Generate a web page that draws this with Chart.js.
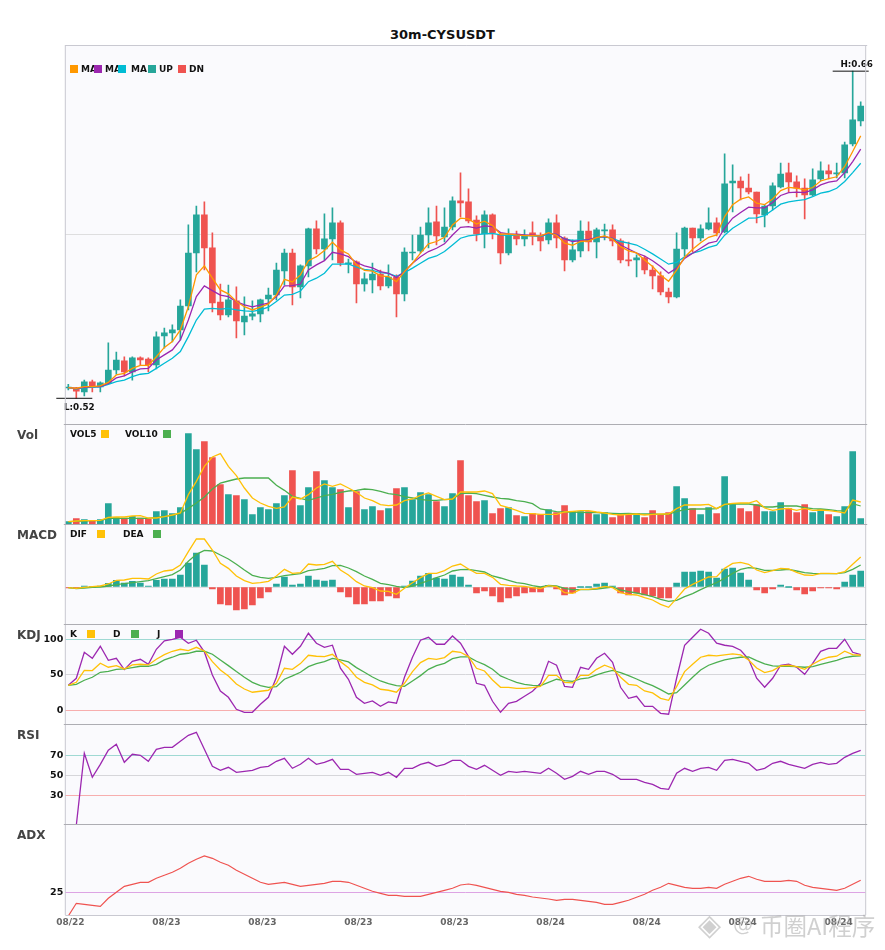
<!DOCTYPE html>
<html>
<head>
<meta charset="utf-8">
<title>30m-CYSUSDT</title>
<script src="https://cdn.jsdelivr.net/npm/chart.js@4"></script>
<style>
  html, body { margin: 0; padding: 0; background: #fff; overflow: hidden; }
  #page { position: relative; width: 885px; height: 950px; font-family: "DejaVu Sans", sans-serif; }
  #page canvas { position: absolute; left: 0; }
  .txt { position: absolute; white-space: nowrap; font-weight: bold; line-height: 1; transform: translateY(-50%); }
  .legend { font-size: 9px; color: #111; }
  .panel-name { font-size: 12px; color: #444; }
  .swatch { position: absolute; width: 8px; height: 8px; }
  #title { position: absolute; left: 0; width: 885px; top: 27px; text-align: center; font-size: 13px; font-weight: bold; color: #111; }
  .mark { position: absolute; color: rgba(170,170,170,.55); white-space: nowrap; line-height: 1; }
</style>
</head>
<body>
<div id="page">
  <div id="title">30m-CYSUSDT</div>
  <canvas id="main" width="885" height="379" style="top:45px"></canvas>
  <canvas id="vol" width="885" height="100" style="top:424px"></canvas>
  <canvas id="macd" width="885" height="100" style="top:524px"></canvas>
  <canvas id="kdj" width="885" height="100" style="top:624px"></canvas>
  <canvas id="rsi" width="885" height="100" style="top:724px"></canvas>
  <canvas id="adx" width="885" height="111" style="top:824px"></canvas>
  <div id="labels"></div>
  <div class="mark" style="left:698px;top:907px;font:30px 'DejaVu Sans'">◈</div>
  <div class="mark" style="left:733px;top:912px;font:20px 'DejaVu Sans'">@</div>
  <div class="mark" style="left:760px;top:908px;font:23.5px 'Noto Sans CJK SC'">币圈AI程序</div>
</div>
<script>
const opens = [
  0.5244,0.5241,0.5227,0.5270,0.5249,0.5264,0.5321,0.5360,0.5313,0.5373,
  0.5368,0.5343,0.5467,0.5480,0.5493,0.5595,0.5822,0.5985,0.5844,0.5612,
  0.5557,0.5617,0.5527,0.5552,0.5561,0.5625,0.5642,0.5745,0.5822,0.5677,
  0.5767,0.5925,0.5839,0.5882,0.5951,0.5775,0.5784,0.5689,0.5707,0.5732,
  0.5681,0.5719,0.5647,0.5822,0.5831,0.5899,0.5955,0.5891,0.5933,0.6045,
  0.6041,0.5963,0.5904,0.5985,0.5899,0.5822,0.5899,0.5882,0.5908,0.5895,
  0.5878,0.5951,0.5886,0.5792,0.5831,0.5916,0.5869,0.5916,0.5921,0.5874,
  0.5792,0.5792,0.5801,0.5749,0.5724,0.5655,0.5634,0.5839,0.5929,0.5886,
  0.5925,0.5951,0.5912,0.6122,0.6130,0.6100,0.6083,0.5985,0.6023,0.6105,
  0.6165,0.6126,0.6100,0.6070,0.6139,0.6173,0.6160,0.6165,0.6289,0.6387];
const closes = [
  0.5246,0.5231,0.5270,0.5249,0.5266,0.5321,0.5364,0.5313,0.5373,0.5364,
  0.5343,0.5463,0.5480,0.5493,0.5595,0.5822,0.5985,0.5844,0.5608,0.5557,
  0.5621,0.5531,0.5552,0.5561,0.5621,0.5642,0.5749,0.5822,0.5677,0.5767,
  0.5925,0.5839,0.5882,0.5951,0.5779,0.5779,0.5689,0.5711,0.5732,0.5681,
  0.5719,0.5647,0.5826,0.5826,0.5899,0.5951,0.5895,0.5933,0.6045,0.6036,
  0.5959,0.5904,0.5985,0.5908,0.5822,0.5899,0.5882,0.5899,0.5895,0.5874,
  0.5951,0.5886,0.5792,0.5835,0.5916,0.5869,0.5921,0.5921,0.5874,0.5792,
  0.5788,0.5801,0.5749,0.5724,0.5655,0.5634,0.5839,0.5929,0.5886,0.5925,
  0.5951,0.5908,0.6118,0.6130,0.6100,0.6083,0.5989,0.6023,0.6109,0.6160,
  0.6126,0.6100,0.6070,0.6135,0.6173,0.6160,0.6165,0.6285,0.6392,0.6451];
const highs = [
  0.5260,0.5247,0.5278,0.5278,0.5270,0.5437,0.5398,0.5377,0.5377,0.5377,
  0.5373,0.5484,0.5501,0.5514,0.5621,0.5942,0.6023,0.6041,0.5908,0.5689,
  0.5685,0.5677,0.5634,0.5617,0.5625,0.5672,0.5779,0.5839,0.5839,0.5771,
  0.5929,0.5959,0.5989,0.6015,0.5959,0.5796,0.5788,0.5737,0.5779,0.5749,
  0.5771,0.5728,0.5844,0.5899,0.5933,0.6015,0.6023,0.6015,0.6062,0.6165,
  0.6096,0.5981,0.6002,0.5989,0.5908,0.5925,0.5916,0.5921,0.5955,0.5908,
  0.5968,0.5985,0.5891,0.5878,0.5959,0.5955,0.5929,0.5946,0.5942,0.5882,
  0.5869,0.5814,0.5809,0.5767,0.5741,0.5672,0.5908,0.5933,0.5929,0.5942,
  0.6015,0.5972,0.6246,0.6199,0.6148,0.6160,0.6083,0.6028,0.6122,0.6207,
  0.6207,0.6152,0.6139,0.6182,0.6212,0.6199,0.6207,0.6297,0.6600,0.6469];
const lows = [
  0.5236,0.5200,0.5210,0.5227,0.5227,0.5261,0.5303,0.5296,0.5278,0.5343,
  0.5313,0.5326,0.5415,0.5441,0.5450,0.5578,0.5741,0.5749,0.5570,0.5535,
  0.5548,0.5458,0.5471,0.5535,0.5527,0.5574,0.5621,0.5685,0.5600,0.5630,
  0.5719,0.5818,0.5792,0.5792,0.5767,0.5737,0.5608,0.5659,0.5651,0.5664,
  0.5672,0.5548,0.5617,0.5792,0.5822,0.5844,0.5856,0.5869,0.5921,0.5976,
  0.5951,0.5874,0.5844,0.5882,0.5775,0.5814,0.5856,0.5852,0.5856,0.5831,
  0.5861,0.5844,0.5745,0.5784,0.5805,0.5831,0.5801,0.5878,0.5852,0.5779,
  0.5767,0.5719,0.5732,0.5668,0.5642,0.5608,0.5630,0.5809,0.5826,0.5874,
  0.5921,0.5895,0.5908,0.5998,0.6049,0.6075,0.5951,0.5933,0.6006,0.6100,
  0.6083,0.6062,0.5968,0.6066,0.6130,0.6139,0.6143,0.6143,0.6280,0.6366];
const ma5 = [
  0.5246,0.5243,0.5250,0.5250,0.5253,0.5268,0.5300,0.5307,0.5328,0.5341,
  0.5341,0.5378,0.5418,0.5443,0.5493,0.5592,0.5728,0.5767,0.5714,0.5664,
  0.5647,0.5614,0.5592,0.5578,0.5590,0.5604,0.5642,0.5709,0.5698,0.5728,
  0.5789,0.5806,0.5832,0.5868,0.5835,0.5818,0.5771,0.5747,0.5744,0.5724,
  0.5721,0.5699,0.5742,0.5778,0.5821,0.5861,0.5871,0.5889,0.5942,0.5971,
  0.5968,0.5946,0.5958,0.5939,0.5902,0.5904,0.5899,0.5896,0.5896,0.5895,
  0.5909,0.5898,0.5864,0.5855,0.5871,0.5874,0.5888,0.5895,0.5881,0.5849,
  0.5831,0.5822,0.5792,0.5764,0.5728,0.5701,0.5749,0.5804,0.5838,0.5866,
  0.5889,0.5899,0.5978,0.6028,0.6052,0.6062,0.6035,0.6029,0.6053,0.6089,
  0.6103,0.6099,0.6092,0.6102,0.6130,0.6140,0.6148,0.6192,0.6256,0.6323];
const ma10 = [
  0.5246,0.5243,0.5247,0.5250,0.5250,0.5264,0.5287,0.5296,0.5313,0.5326,
  0.5328,0.5364,0.5386,0.5407,0.5450,0.5535,0.5635,0.5681,0.5661,0.5642,
  0.5635,0.5614,0.5600,0.5591,0.5600,0.5607,0.5635,0.5681,0.5682,0.5689,
  0.5749,0.5771,0.5789,0.5825,0.5818,0.5806,0.5781,0.5767,0.5758,0.5742,
  0.5735,0.5717,0.5742,0.5778,0.5806,0.5828,0.5842,0.5861,0.5899,0.5932,
  0.5935,0.5928,0.5938,0.5935,0.5909,0.5904,0.5902,0.5899,0.5898,0.5895,
  0.5906,0.5902,0.5882,0.5871,0.5875,0.5879,0.5889,0.5892,0.5885,0.5856,
  0.5839,0.5821,0.5809,0.5789,0.5764,0.5735,0.5757,0.5799,0.5821,0.5842,
  0.5864,0.5872,0.5928,0.5971,0.5995,0.6018,0.6015,0.6015,0.6038,0.6068,
  0.6080,0.6082,0.6080,0.6092,0.6113,0.6125,0.6130,0.6166,0.6213,0.6266];
const ma20 = [
  0.5246,0.5240,0.5246,0.5247,0.5249,0.5260,0.5271,0.5278,0.5293,0.5303,
  0.5307,0.5328,0.5350,0.5371,0.5400,0.5464,0.5535,0.5582,0.5585,0.5582,
  0.5585,0.5578,0.5574,0.5572,0.5578,0.5590,0.5614,0.5642,0.5645,0.5659,
  0.5699,0.5714,0.5735,0.5774,0.5774,0.5775,0.5761,0.5752,0.5747,0.5738,
  0.5735,0.5722,0.5738,0.5757,0.5778,0.5799,0.5809,0.5828,0.5856,0.5885,
  0.5895,0.5899,0.5905,0.5906,0.5899,0.5896,0.5899,0.5896,0.5895,0.5892,
  0.5904,0.5902,0.5882,0.5876,0.5878,0.5878,0.5888,0.5891,0.5884,0.5871,
  0.5864,0.5856,0.5838,0.5818,0.5796,0.5774,0.5782,0.5806,0.5821,0.5831,
  0.5846,0.5855,0.5898,0.5928,0.5949,0.5971,0.5972,0.5982,0.6006,0.6031,
  0.6041,0.6046,0.6050,0.6063,0.6078,0.6085,0.6099,0.6128,0.6166,0.6206];
const volume = [
  7,16,13,8,13,61,19,18,23,18,
  14,37,40,31,49,271,223,247,199,118,
  88,85,73,28,49,43,61,85,160,55,
  109,157,130,109,103,49,97,43,52,40,
  46,106,109,73,94,88,67,52,91,190,
  85,67,70,31,46,49,25,22,31,28,
  43,34,55,37,37,37,28,34,19,28,
  31,31,19,40,28,34,112,76,46,28,
  49,31,142,58,46,37,58,37,37,64,
  46,34,58,34,43,28,22,52,217,16];
const vol5 = [
  7,9,10,10,11,20,21,21,24,25,
  18,18,22,27,33,88,128,173,201,211,
  173,145,108,78,63,53,47,51,81,75,
  88,108,120,113,120,108,95,78,70,58,
  55,57,70,75,86,93,83,73,75,96,
  96,96,99,91,56,49,41,32,31,29,
  29,29,36,38,40,40,36,33,29,27,
  29,30,27,29,30,30,46,57,57,57,
  59,46,59,62,63,63,70,48,41,45,
  47,41,47,41,42,40,37,33,72,66];
const vol10 = [
  7,8,9,10,10,17,17,17,17,17,
  17,20,23,26,32,47,63,81,105,123,
  129,135,138,138,138,138,116,101,83,77,
  71,78,85,89,95,99,101,105,103,98,
  91,88,82,78,74,71,71,73,75,91,
  93,91,86,81,77,75,70,67,61,45,
  41,37,36,36,35,34,34,33,32,31,
  32,30,30,30,29,30,37,43,45,45,
  45,46,58,60,60,60,57,51,51,54,
  54,54,49,46,45,43,40,39,61,54];
const macdHist = [
  -1,-2,3,0,1,11,20,12,17,12,
  3,20,24,24,36,72,102,66,-6,-51,
  -54,-69,-66,-54,-33,-15,9,30,6,9,
  33,21,18,21,-15,-30,-51,-51,-42,-42,
  -27,-33,3,18,33,41,27,24,36,30,
  6,-18,-12,-27,-45,-33,-27,-18,-15,-15,
  5,-6,-24,-18,0,0,9,12,3,-18,
  -24,-18,-24,-27,-33,-33,12,45,45,48,
  45,27,54,57,42,21,-9,-18,-6,6,
  0,-9,-21,-12,-3,-3,-6,15,36,48];
const dif = [
  -2,-4,-1,1,3,9,20,21,26,26,
  24,39,48,51,66,106,144,144,111,71,
  56,33,19,11,13,17,33,53,41,43,
  69,66,68,77,51,36,16,3,-2,-12,
  -13,-22,-4,13,28,41,41,49,63,69,
  54,41,41,29,8,5,3,2,-2,-5,
  4,1,-17,-19,-7,-7,-4,2,-2,-17,
  -22,-24,-32,-39,-52,-61,-34,-6,8,19,
  30,31,56,71,74,68,51,43,49,56,
  54,44,36,35,41,41,40,46,68,90];
const dea = [
  -2,-5,-3,-1,0,3,7,10,13,16,
  19,25,31,37,51,77,98,110,108,96,
  84,68,51,35,29,26,29,34,37,40,
  49,52,56,64,65,57,46,33,23,11,
  7,2,-2,3,11,19,28,36,48,52,
  53,49,45,33,27,20,13,10,4,0,
  5,3,-4,-8,-8,-8,-6,-3,0,-9,
  -14,-18,-23,-29,-37,-43,-40,-29,-20,-8,
  3,13,26,41,53,58,56,50,50,51,
  53,48,43,41,40,40,40,43,53,66];
const kValues = [
  35.2,39.4,56.3,55.9,66.2,60.6,62.9,58.2,63.9,64.8,
  63.9,71.8,78.4,83.1,85.9,84.0,88.7,83.6,68.5,56.8,
  48.4,37.1,30.0,25.4,26.8,28.2,38.0,59.2,57.7,65.7,
  77.5,76.1,75.6,78.9,68.5,60.1,46.5,39.4,35.7,29.6,
  28.2,25.4,38.0,54.5,67.1,73.2,71.8,74.2,83.1,81.7,
  75.6,59.2,55.4,42.7,32.4,32.4,31.0,31.0,31.9,33.8,
  49.3,49.3,39.4,38.5,49.3,49.3,57.7,63.4,59.2,46.5,
  36.6,35.2,27.2,24.4,16.9,14.1,33.3,54.5,64.8,74.7,
  77.5,76.5,77.9,79.3,77.9,70.9,59.6,53.1,55.9,62.4,
  63.4,61.5,57.7,64.8,70.9,74.7,76.1,83.1,78.4,77.5];
const dValues = [
  35.2,36.6,42.3,46.5,53.5,54.9,57.7,58.2,60.1,62.0,
  62.0,64.8,70.9,74.7,78.9,80.3,83.1,83.1,78.9,70.9,
  62.9,54.5,46.5,39.4,34.7,32.4,33.3,43.7,48.4,53.5,
  61.5,65.7,68.5,73.2,70.9,68.1,60.1,53.5,46.9,41.3,
  37.6,34.7,33.8,41.3,48.8,57.7,62.9,66.2,72.8,75.1,
  75.1,69.0,64.3,57.7,48.4,43.7,39.4,36.6,35.2,34.7,
  39.4,43.7,41.8,40.8,44.1,45.5,49.8,53.5,56.3,53.1,
  48.8,44.1,39.0,34.7,29.1,23.0,24.9,35.7,46.5,56.8,
  63.4,67.6,70.9,73.2,74.7,75.1,70.0,65.3,62.4,62.0,
  62.0,61.5,60.6,61.5,64.8,67.6,70.4,74.2,76.1,76.5];
const jValues = [
  35.2,45.1,81.7,73.2,90.1,70.4,73.2,57.3,69.0,71.8,
  64.8,85.9,97.7,100.0,102.8,94.4,98.6,82.2,49.8,27.2,
  18.3,1.4,-2.8,-2.8,8.5,18.3,46.5,90.1,78.9,90.1,
  108.5,94.4,88.7,91.6,59.2,43.7,18.3,9.9,13.1,5.6,
  11.7,9.9,46.5,74.7,98.6,102.8,93.0,93.0,104.7,94.4,
  75.6,38.0,35.2,12.7,-2.8,9.9,12.7,19.7,26.8,38.0,
  69.0,63.4,33.8,32.4,60.6,57.7,73.2,80.3,67.6,32.4,
  16.9,19.7,5.6,5.6,-4.2,-5.6,45.1,91.6,102.8,114.1,
  108.5,94.4,91.6,90.1,84.5,71.8,45.1,32.4,45.1,63.4,
  64.8,60.6,50.7,66.2,83.1,87.3,87.3,100.0,81.7,78.4];
const rsiValues = [
  null,0,72,48,61,75,81,63,71,70,
  64,76,78,78,84,90,93,76,59,55,
  58,53,54,55,58,59,64,67,57,61,
  67,61,63,66,56,56,51,52,53,50,
  53,48,57,57,61,63,59,61,65,65,
  59,56,60,55,50,54,53,54,53,52,
  57,52,46,49,54,51,54,54,51,46,
  46,46,43,41,37,36,52,57,54,57,
  58,55,65,66,64,62,55,57,62,64,
  61,59,57,61,63,61,62,68,72,75];
const adxValues = [
  1.3,14,13,12,11,19,25,31,33,35,
  35,39,42,45,49,54,58,61.3,59,55,
  52,47,43,39,35,33,34,35,33,31,
  32,33,34,36,36,35,32,29,26,24,
  22,22,21,21,21,23,25,27,29,32.3,
  33.3,32,30,28,26,25,23,22,20.3,19.3,
  18.3,17,18,18,17,16,15,13,13,15,
  17,20,23,27,30,34,32,30,29,29,
  30,29,33,36,39,41,38,36,36,36,
  37,36,32,30,29,28,27,29,33,37];
const tickIndexes = [0,12,24,36,48,60,72,84,96];
const tickLabels = ['08/22','08/23','08/23','08/23','08/23','08/24','08/24','08/24','08/24'];

const TEAL = '#26A69A', RED = '#EF5350', YELLOW = '#FFC107', GREEN = '#4CAF50', PURPLE = '#9C27B0';
const ORANGE = '#FF9800', CYAN = '#00BCD4';
const GRID_HI = '#9fd9d3', GRID_MID = '#d6d6da', GRID_LO = '#f7aeae', GRID_ADX = '#dda4e4';

const points = vals => vals.map((y, x) => ({ x, y }));
const candleColors = opens.map((o, i) => closes[i] >= o ? TEAL : RED);

function line(vals, color, width) {
  return { type: 'line', data: points(vals), borderColor: color, borderWidth: width || 1.3,
    pointRadius: 0, tension: 0, order: 1 };
}

function bars(data, colors, thickness) {
  return { type: 'bar', data, backgroundColor: colors, barThickness: thickness, minBarLength: 1,
    borderWidth: 0, grouped: false, order: 2 };
}

// background + spines, the library has no option for a per-side frame
const frame = {
  id: 'frame',
  beforeDraw(chart) {
    const { ctx, chartArea: a } = chart;
    ctx.fillStyle = '#fafafd';
    ctx.fillRect(a.left, a.top, a.right - a.left, a.bottom - a.top);
  },
  afterDraw(chart, args, opts) {
    const { ctx, chartArea: a } = chart;
    ctx.save();
    ctx.lineWidth = 1;
    ctx.strokeStyle = '#c9c9d1';
    ctx.beginPath();
    ctx.moveTo(a.left, a.top); ctx.lineTo(a.left, a.bottom);
    ctx.moveTo(a.right, a.top); ctx.lineTo(a.right, a.bottom);
    if (opts.bottom) { ctx.moveTo(a.left, a.bottom + 0.5); ctx.lineTo(a.right, a.bottom + 0.5); }
    ctx.stroke();
    ctx.strokeStyle = opts.topColor || '#adadb3';
    ctx.beginPath();
    ctx.moveTo(opts.topFrom || a.left - 1.5, a.top + 0.5);
    ctx.lineTo(a.right + 1.5, a.top + 0.5);
    ctx.stroke();
    ctx.restore();
  }
};

// H:/L: markers on the candle panel
const extremes = {
  id: 'extremes',
  afterDatasetsDraw(chart) {
    const { ctx, scales: { x, y } } = chart;
    const hi = Math.max(...highs), lo = Math.min(...lows);
    const hx = x.getPixelForValue(highs.indexOf(hi)), lx = x.getPixelForValue(lows.indexOf(lo));
    const hy = y.getPixelForValue(hi), ly = y.getPixelForValue(lo);
    ctx.save();
    ctx.strokeStyle = '#111';
    ctx.lineWidth = 1;
    ctx.beginPath();
    ctx.moveTo(hx - 20, hy); ctx.lineTo(hx + 16, hy);
    ctx.moveTo(lx - 20, ly); ctx.lineTo(lx + 16, ly);
    ctx.stroke();
    ctx.fillStyle = '#111';
    ctx.font = 'bold 8.8px "DejaVu Sans"';
    ctx.textAlign = 'center';
    ctx.textBaseline = 'middle';
    ctx.fillText('H:' + hi.toFixed(2), hx + 4, hy - 6.5);
    ctx.fillText('L:' + lo.toFixed(2), lx + 3, ly + 9);
    ctx.restore();
  }
};

function panel(id, datasets, yMin, yMax, gridLines, showTicks, extra) {
  extra = extra || {};
  const colorFor = {};
  gridLines.forEach(g => { colorFor[g.value] = g.color; });
  return new Chart(document.getElementById(id), {
    data: { datasets },
    plugins: [frame].concat(extra.plugins || []),
    options: {
      responsive: false,
      animation: false,
      events: [],
      layout: { padding: { left: 0, right: 19.3, top: 0, bottom: 0 } },
      plugins: {
        legend: { display: false },
        tooltip: { enabled: false },
        frame: { topColor: extra.topColor, topFrom: extra.topFrom, bottom: !!extra.xAxis }
      },
      scales: {
        x: {
          type: 'linear', offset: false, min: -0.375, max: 99.625,
          display: !!extra.xAxis,
          grid: { display: false, drawTicks: false },
          border: { display: false },
          afterBuildTicks: s => { s.ticks = tickIndexes.map(value => ({ value })); },
          afterFit: s => { s.height = extra.xAxis ? 20 : 0; s.paddingLeft = 0; s.paddingRight = 0; },
          ticks: {
            autoSkip: false, maxRotation: 0, padding: 2, labelOffset: 2, color: '#666',
            font: { family: 'DejaVu Sans', size: 9, weight: 'bold' },
            callback: v => tickLabels[tickIndexes.indexOf(v)]
          }
        },
        y: {
          min: yMin, max: yMax,
          grid: { color: c => colorFor[c.tick.value], drawTicks: false, lineWidth: 1 },
          border: { display: false },
          afterBuildTicks: s => { s.ticks = gridLines.map(g => ({ value: g.value })); },
          afterFit: s => { s.width = 65.3; s.paddingTop = 0; s.paddingBottom = 0; },
          ticks: {
            display: showTicks, padding: 2, color: '#111',
            font: { family: 'DejaVu Sans', size: 9.5, weight: 'bold' },
            callback: v => String(v)
          }
        }
      }
    }
  });
}

// candles
panel('main', [
  line(ma5, ORANGE), line(ma10, PURPLE), line(ma20, CYAN),
  bars(opens.map((o, i) => ({ x: i, y: [o, closes[i]] })), candleColors, 6),
  bars(lows.map((l, i) => ({ x: i, y: [l, highs[i]] })), candleColors, 1)
], 0.5090, 0.6712, [{ value: 0.59, color: '#dededf' }], false,
  { plugins: [extremes], topColor: '#c9c9d1', topFrom: 65 });

// volume
panel('vol', [
  line(vol5, YELLOW), line(vol10, GREEN),
  bars(points(volume), candleColors, 6)
], 0, 300, [], false);

// macd
panel('macd', [
  line(dif, YELLOW), line(dea, GREEN),
  bars(points(macdHist), macdHist.map(v => v >= 0 ? TEAL : RED), 6)
], -111, 189, [{ value: 0, color: '#dededf' }], false);

// kdj
panel('kdj', [line(kValues, YELLOW), line(dValues, GREEN), line(jValues, PURPLE)],
  -19.3, 121.5,
  [{ value: 0, color: GRID_LO }, { value: 50, color: GRID_MID }, { value: 100, color: GRID_HI }], true);

// rsi
panel('rsi', [line(rsiValues, PURPLE)], 1.3, 101.3,
  [{ value: 30, color: GRID_LO }, { value: 50, color: GRID_MID }, { value: 70, color: GRID_HI }], true);

// adx
panel('adx', [line(adxValues, '#EF5350', 1.2)], 2.3, 93.3,
  [{ value: 25, color: GRID_ADX }], true, { xAxis: true });

// text and swatches that sit over the canvases
const labels = document.getElementById('labels');
function text(str, x, y, cls) {
  const d = document.createElement('div');
  d.className = 'txt ' + cls;
  d.textContent = str;
  d.style.left = x + 'px';
  d.style.top = y + 'px';
  labels.appendChild(d);
}
function swatch(x, y, color) {
  const d = document.createElement('div');
  d.className = 'swatch';
  d.style.left = x + 'px';
  d.style.top = (y - 4) + 'px';
  d.style.background = color;
  labels.appendChild(d);
}
[['Vol', 434.7], ['MACD', 534.7], ['KDJ', 634.7], ['RSI', 734.7], ['ADX', 834.7]]
  .forEach(([name, y]) => text(name, 17, y, 'panel-name'));

const legendRows = [
  [69, [['MA', 81, 70, ORANGE], ['MA', 105, 94, PURPLE], ['MA', 131, 118, CYAN], ['UP', 159, 148, TEAL], ['DN', 189, 178, RED]]],
  [433.7, [['VOL5', 70, 101, YELLOW], ['VOL10', 125, 163, GREEN]]],
  [533.7, [['DIF', 70, 97, YELLOW], ['DEA', 123, 153, GREEN]]],
  [633.7, [['K', 70, 87, YELLOW], ['D', 113, 131, GREEN], ['J', 157, 175, PURPLE]]]
];
legendRows.forEach(([y, items]) => {
  items.forEach(([name, tx]) => text(name, tx, y, 'legend'));
  items.forEach(([, , sx, color]) => swatch(sx, y, color));
});
</script>
</body>
</html>
